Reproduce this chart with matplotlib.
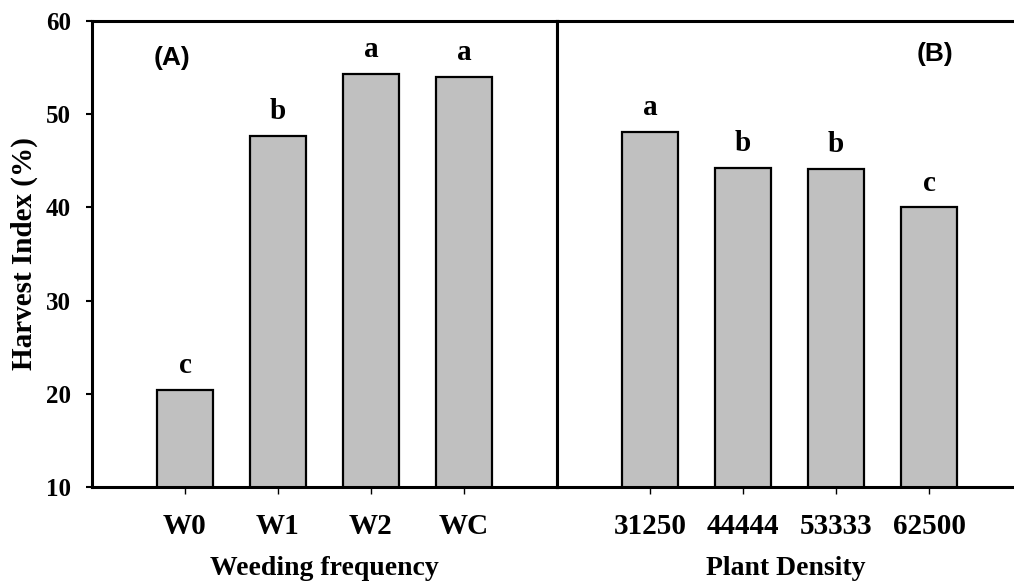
import matplotlib.pyplot as plt
import numpy as np

weeding = ['W0', 'W1', 'W2', 'WC']
weeding_hi = [20.4, 47.7, 54.3, 54.0]
weeding_letters = ['c', 'b', 'a', 'a']

density = ['31250', '44444', '53333', '62500']
density_hi = [48.1, 44.2, 44.1, 40.0]
density_letters = ['a', 'b', 'b', 'c']

plt.rcParams['font.family'] = ['Liberation Serif', 'DejaVu Serif']
plt.rcParams['font.weight'] = 'bold'

fig = plt.figure(figsize=(10.14, 5.81), dpi=100)
ax1 = fig.add_axes([0.0907, 0.1618, 0.4586, 0.8021])
ax2 = fig.add_axes([0.5493, 0.1618, 0.4507, 0.8021])

bar_color = '#c0c0c0'

def draw_panel(ax, cats, vals, letters, xlabel, tag, tag_x, tag_y, xmax):
    x = np.arange(1, len(cats) + 1)
    ax.bar(x, vals, width=0.6, bottom=0, color=bar_color, edgecolor='black',
           linewidth=1.6, zorder=2)
    for xi, v, l in zip(x, vals, letters):
        ax.text(xi, v + 1.8, l, ha='center', va='baseline', fontsize=21,
                fontweight='bold')
    ax.set_xlim(0, xmax)
    ax.set_ylim(10, 60)
    ax.set_xticks(x)
    ax.set_xticklabels(cats, fontsize=21, fontweight='bold')
    ax.set_xlabel(xlabel, fontsize=20, fontweight='bold', labelpad=11)
    ax.tick_params(axis='x', direction='out', length=5, width=1, pad=14)
    for s in ax.spines.values():
        s.set_linewidth(2.2)
    ax.text(tag_x, tag_y, tag, ha='center', va='center', fontsize=19,
            fontweight='bold', family='Liberation Sans')

draw_panel(ax1, weeding, weeding_hi, weeding_letters, 'Weeding frequency',
           '(A)', 0.86, 56.0, 5.0)
draw_panel(ax2, density, density_hi, density_letters, 'Plant Density',
           '(B)', 4.06, 56.5, 4.91)

ax1.set_yticks([10, 20, 30, 40, 50, 60])
ax1.set_yticklabels(['10', '20', '30', '40', '50', '60'], fontsize=18,
                    fontweight='bold')
ax1.tick_params(axis='y', direction='out', length=4, width=1.5, pad=11)
ax1.set_ylabel('Harvest Index (%)', fontsize=21, fontweight='bold', labelpad=6)

ax2.set_yticks([])
ax2.spines['right'].set_visible(False)

fig.savefig('out.png', dpi=100)
